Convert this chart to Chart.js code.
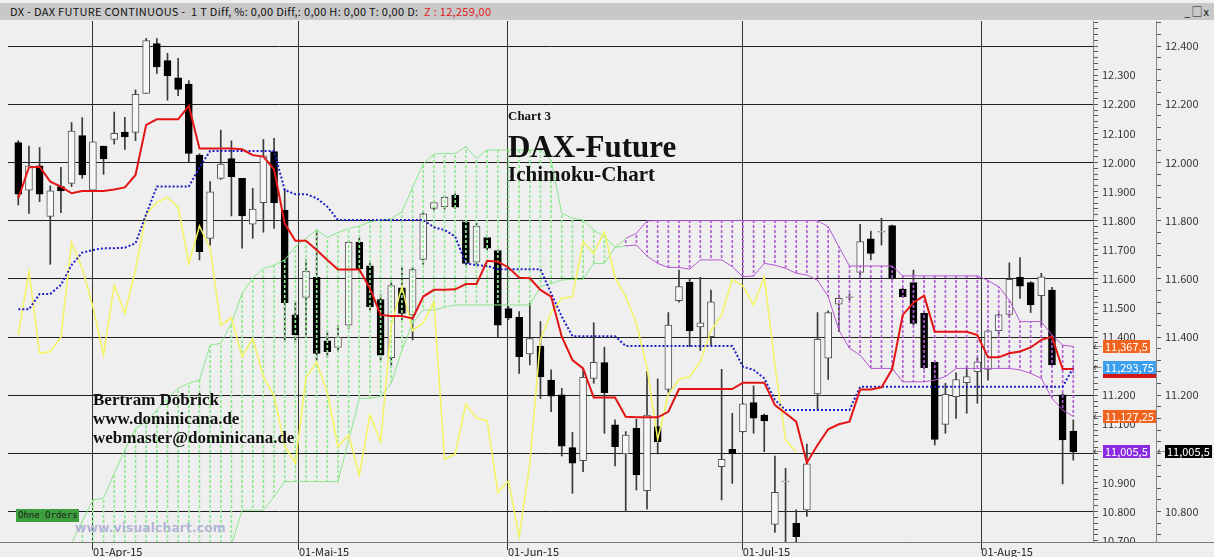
<!DOCTYPE html>
<html><head><meta charset="utf-8">
<script src="https://cdn.jsdelivr.net/npm/chart.js@4.4.0/dist/chart.umd.min.js"></script>
<style>
html,body{margin:0;padding:0;width:1214px;height:557px;overflow:hidden;background:#efefef;position:relative;font-family:'Noto Sans CJK KR','Liberation Sans',sans-serif;}
#c{position:absolute;left:0;top:0;}
.tb{position:absolute;left:0;top:3px;width:1214px;height:17px;background:#c8c8c8;font-size:11px;line-height:17px;color:#111;white-space:pre;}
.tb .t{position:absolute;left:10px;top:0;letter-spacing:0.3px;}
.tb .r{color:#e02020;}
.tb .w{position:absolute;right:4px;top:0;letter-spacing:1px;font-size:11px;}
.ser{position:absolute;font-family:'Liberation Serif','Times New Roman',serif;font-weight:bold;color:#111;white-space:pre;}
.wm{position:absolute;left:75px;top:522px;font-family:'DejaVu Sans',sans-serif;font-weight:bold;font-size:12.5px;line-height:12.5px;color:#b4b4d8;white-space:pre;}
.oo{position:absolute;left:16px;top:509px;width:63px;height:13px;background:#3d9e3d;font-family:'DejaVu Sans Mono',monospace;font-size:9px;line-height:13px;color:#1b1b1b;text-indent:2px;white-space:pre;}
.mk{position:absolute;height:13px;line-height:13px;font-size:11px;color:#fff;padding:0 2px;white-space:pre;}
.ar{position:absolute;font-size:9px;line-height:13px;color:#333;}
</style></head>
<body>
<canvas id="c" width="1214" height="557"></canvas>
<div class="tb"><span class="t">DX - DAX FUTURE CONTINUOUS -  1 T Diff, %: 0,00 Diff,: 0,00 H: 0,00 T: 0,00 D:  <span class="r">Z : 12,259,00</span></span><span class="w">_□x</span></div>
<div class="ser" style="left:508px;top:109px;font-size:13px;line-height:13px;">Chart 3</div>
<div class="ser" style="left:508px;top:131px;font-size:31px;line-height:31px;">DAX-Future</div>
<div class="ser" style="left:508px;top:164px;font-size:21px;line-height:21px;">Ichimoku-Chart</div>
<div class="ser" style="left:93px;top:391px;font-size:17px;line-height:17px;">Bertram Dobrick</div>
<div class="ser" style="left:93px;top:410px;font-size:17px;line-height:17px;">www.dominicana.de</div>
<div class="ser" style="left:93px;top:429px;font-size:17px;line-height:17px;">webmaster@dominicana.de</div>
<div class="oo">Ohne Orders</div>
<div class="wm">www.visualchart.com</div>
<script>
// ---- data ----
const opens = [12068,11905,11988,11814,11917,11928,12092,11905,12056,12079,
12104,12103,12237,12408,12350,12291,12269,12025,11739,11945,
12013,11945,11788,11862,12037,11836,11476,11536,11605,11387,
11364,11441,11725,11645,11529,11329,11569,11476,11667,11842,
11848,11888,11796,11657,11742,11697,11498,11468,11342,11369,
11252,11201,11020,10975,11258,11312,11098,10998,11086,10872,
11092,11220,11525,11588,11435,11401,10954,11014,11075,11175,
11132,10756,10902,10760,10806,11204,11327,11513,11535,11622,
11737,11760,11783,11565,11587,11481,11313,11100,11195,11243,
11281,11289,11422,11478,11605,11587,11542,11561,11201,11077];
const highs = [12075,12056,12051,11919,11983,12137,12154,12071,12056,12173,
12155,12249,12426,12426,12375,12358,12281,12030,11934,12111,
12074,11945,11911,12079,12083,11907,11520,11665,11768,11420,
11441,11730,11740,11660,11545,11590,11642,11640,11830,11865,
11885,11892,11800,11790,11750,11700,11505,11487,11516,11453,
11287,11224,11072,11287,11449,11365,11115,11075,11117,11281,
11256,11484,11630,11600,11605,11561,11289,11138,11172,11232,
11135,10991,10949,10806,11032,11484,11490,11545,11548,11787,
11764,11808,11785,11567,11630,11487,11318,11241,11277,11298,
11330,11425,11480,11655,11673,11590,11619,11571,11205,11115];
const lows = [11854,11825,11865,11650,11827,11917,11945,11905,11959,12063,
12045,12075,12237,12306,12214,12229,12002,11665,11716,11942,
11816,11705,11739,11760,11773,11384,11380,11401,11320,11330,
11350,11430,11620,11490,11320,11300,11460,11390,11650,11835,
11840,11842,11640,11650,11700,11401,11460,11275,11304,11189,
11143,10991,10863,10937,11241,11069,10957,10800,10874,10808,
10998,11210,11520,11367,11353,11372,10840,10897,11073,11069,
11006,10728,10690,10690,10783,11149,11254,11418,11528,11602,
11665,11716,11598,11535,11440,11290,11029,11069,11120,11138,
11172,11252,11410,11470,11533,11484,11440,11300,10895,10977];
const closes = [11891,11988,11891,11902,11902,12108,11957,12071,12012,12100,
12088,12234,12419,12328,12297,12251,12031,11693,11899,11994,
11951,11816,11840,12023,11862,11518,11407,11626,11344,11350,
11399,11725,11635,11504,11338,11577,11481,11632,11823,11862,
11880,11846,11653,11781,11705,11441,11466,11332,11395,11264,
11197,11025,10966,11261,11313,11209,11023,11063,10926,11132,
11040,11441,11573,11422,11449,11521,10980,10998,11170,11121,
11112,10866,10905,10714,10964,11392,11484,11533,11538,11728,
11687,11763,11604,11539,11447,11295,11048,11203,11254,11264,
11315,11421,11476,11598,11575,11510,11607,11304,11046,11005.5];
const tenkan = [11877,11983,11985,11934,11917,11894,11902,11902,11902,11907,
11914,11957,12129,12148,12148,12148,12194,12048,12048,12048,
12048,12045,12025,12020,11976,11790,11731,11731,11699,11665,
11632,11632,11632,11567,11476,11472,11472,11464,11539,11562,
11562,11564,11582,11582,11662,11659,11639,11604,11602,11562,
11539,11401,11321,11292,11192,11192,11192,11126,11124,11124,
11124,11143,11221,11221,11221,11221,11221,11221,11243,11243,
11243,11166,11138,11109,10968,11029,11083,11100,11109,11220,
11220,11227,11289,11476,11518,11542,11418,11418,11418,11418,
11407,11330,11330,11344,11350,11364,11390,11401,11290,11290];
const kijun = [11495,11495,11548,11548,11579,11647,11690,11699,11705,11705,
11707,11722,11822,11917,11917,11917,11917,11983,12039,12039,
12039,12039,12039,12039,12039,11905,11891,11891,11877,11848,
11802,11802,11802,11802,11802,11802,11802,11802,11802,11777,
11768,11745,11653,11647,11644,11633,11633,11633,11633,11633,
11550,11470,11403,11403,11403,11403,11403,11369,11369,11369,
11369,11369,11369,11369,11369,11369,11369,11369,11298,11287,
11258,11184,11149,11149,11149,11149,11149,11149,11149,11229,
11229,11229,11229,11229,11229,11229,11229,11229,11229,11229,
11229,11229,11229,11229,11229,11229,11229,11229,11229,11293.75];
const chikou = [11407,11626,11344,11350,11399,11725,11635,11504,11338,11577,
11481,11632,11823,11862,11880,11846,11653,11781,11705,11441,
11466,11332,11395,11264,11197,11025,10966,11261,11313,11209,
11023,11063,10926,11132,11040,11441,11573,11422,11449,11521,
10980,10998,11170,11121,11112,10866,10905,10714,10964,11392,
11484,11533,11538,11728,11687,11763,11604,11539,11447,11295,
11048,11203,11254,11264,11315,11421,11476,11598,11575,11510,
11607,11304,11046,11005.5];
const spanA = [null,null,null,null,null,10690,10767,10840,10846,10931,
11012,11086,11109,11149,11189,11224,11241,11252,11372,11378,
11447,11550,11602,11636,11647,11665,11710,11739,11768,11742,
11759,11773,11781,11796,11802,11806,11830,11915,11995,12029,
12031,12031,12054,12014,12043,12043,12043,12043,12043,12043,
12008,11825,11808,11802,11768,11745,11708,11713,11716,11678,
11653,11639,11639,11633,11665,11665,11665,11642,11607,11610,
11653,11647,11636,11619,11613,11595,11539,11424,11361,11338,
11292,11292,11292,11246,11246,11246,11252,11264,11292,11292,
11292,11292,11292,11292,11287,11275,11258,11189,11149,11127.25];
const spanB = [null,null,null,null,null,10600,10600,10600,10600,10600,
10600,10600,10600,10600,10600,10600,10600,10600,10600,10600,
10685,10805,10805,10805,10851,10903,10903,10903,10903,10903,
10903,11046,11189,11189,11195,11241,11355,11447,11493,11493,
11502,11510,11510,11510,11510,11510,11510,11510,11510,11573,
11584,11596,11598,11598,11653,11653,11708,11739,11756,11799,
11800,11800,11800,11800,11800,11800,11800,11800,11800,11800,
11800,11800,11800,11800,11800,11800,11779,11710,11644,11644,
11644,11644,11644,11610,11610,11610,11610,11610,11610,11610,
11610,11594,11573,11527,11453,11453,11453,11407,11372,11367.5];
const monthPos = [7, 26.34, 45.95, 67.98, 90.37];
const monthLabels = ['01-Apr-15','01-Mai-15','01-Jun-15','01-Jul-15','01-Aug-15'];
const markerValues = [11367.5, 11293.75, 11127.25, 11005.5];
const markerTexts = ['11,367,5','11,293,75','11,127,25','11,005,5'];
const lastCloseText = '11,005,5';

// ---- chart ----
const FAM = "'Noto Sans CJK KR','Liberation Sans',sans-serif";
const xMin = -0.9665, xMax = 100.85, yMin = 10695.5, yMax = 12486;
const fmt = v => { const t = Math.floor(v/1000); const r = Math.round(v - t*1000); return t + '.' + String(r).padStart(3,'0'); };
const canvas = document.getElementById('c');
const ctx = canvas.getContext('2d');
function dashPattern(color){ const c = document.createElement('canvas'); c.width = 1; c.height = 5; const g = c.getContext('2d'); g.fillStyle = color; g.fillRect(0,0,1,3); return ctx.createPattern(c,'repeat'); }
const greenDash = dashPattern('#8eea8e'), purpleDash = dashPattern('#b15ad6');
const idx = opens.map((_, i) => i);
const isUp = idx.map(i => closes[i] >= opens[i]);
const cloudIdx = idx.filter(i => spanA[i] !== null);
const cloudLine = i => (spanA[i] >= spanB[i] ? '#8ee68e' : '#b45ad2');

const bgPlugin = {
  id: 'bg',
  beforeDraw(ch){ const c = ch.ctx; c.save(); c.fillStyle = '#efefef'; c.fillRect(0,0,ch.width,ch.height); c.restore(); },
  afterDraw(ch){
    const c = ch.ctx, a = ch.chartArea; c.save();
    c.fillStyle = '#efefef'; c.fillRect(a.right + 1, a.bottom + 1, ch.width - a.right, ch.height - a.bottom);
    c.strokeStyle = '#777'; c.lineWidth = 1;
    c.beginPath(); c.moveTo(0, Math.round(a.bottom) + 0.5); c.lineTo(ch.width, Math.round(a.bottom) + 0.5); c.stroke();
    c.restore();
  }
};

const chart = new Chart(ctx, {
  type: 'bar',
  data: { datasets: [
    { type:'bar', data: idx.map(i => ({x:i, y:[lows[i], highs[i]]})), backgroundColor:'#3a3a3a', barThickness:1, grouped:false, order:6 },
    { type:'bar', data: idx.map(i => ({x:i, y:[opens[i], closes[i]]})), backgroundColor: idx.map(i => isUp[i] ? '#f7f7f7' : '#000000'), borderColor: idx.map(i => isUp[i] ? '#555555' : '#000000'), borderWidth:1, borderSkipped:false, barThickness:7, grouped:false, order:5 },
    { type:'bar', data: cloudIdx.map(i => ({x:i, y:[spanB[i], spanA[i]]})), backgroundColor: cloudIdx.map(i => spanA[i] >= spanB[i] ? greenDash : purpleDash), barThickness:1, grouped:false, order:4 },
    { type:'line', data: idx.map(i => ({x:i, y:spanA[i]})), borderColor:'#8ee68e', borderWidth:1, pointRadius:0, segment:{ borderColor: c => cloudLine(c.p0DataIndex) }, order:3 },
    { type:'line', data: idx.map(i => ({x:i, y:spanB[i]})), borderColor:'#8ee68e', borderWidth:1, pointRadius:0, segment:{ borderColor: c => cloudLine(c.p0DataIndex) }, order:3 },
    { type:'line', data: chikou.map((v,i) => ({x:i, y:v})), borderColor:'#f4f45e', borderWidth:1.5, pointRadius:0, order:2 },
    { type:'line', data: kijun.map((v,i) => ({x:i, y:v})), borderColor:'#1e1ec8', borderWidth:2, borderDash:[2,2], pointRadius:0, order:1 },
    { type:'line', data: tenkan.map((v,i) => ({x:i, y:v})), borderColor:'#e41414', borderWidth:2, pointRadius:0, order:0 }
  ]},
  options: {
    responsive:false, animation:false, devicePixelRatio:1,
    layout:{ padding:{ left:8, top:21, right:0, bottom:0 } },
    plugins:{ legend:{display:false}, tooltip:{enabled:false} },
    scales:{
      x:{ type:'linear', min:xMin, max:xMax, offset:false,
        afterBuildTicks: s => { s.ticks = monthPos.map(v => ({value:v})); },
        afterFit: s => { s.height = 15; },
        ticks:{ autoSkip:false, maxRotation:0, align:'start', padding:-5, color:'#222', font:{family:FAM, size:11}, callback:(v,i) => monthLabels[i] },
        grid:{ offset:false, color:'#333', lineWidth:1, drawTicks:true, tickLength:8 },
        border:{ display:true, color:'#777' } },
      y:{ position:'right', min:yMin, max:yMax, weight:0,
        afterFit: s => { s.width = 63; },
        ticks:{ stepSize:20, maxTicksLimit:1000, includeBounds:false, autoSkip:false, padding:4, color:'#333', font:{family:FAM, size:11}, callback: v => (v % 100 === 0 && v < 12400) ? fmt(v) : '' },
        grid:{ drawOnChartArea:false, tickLength:5, color:'#555', tickColor:'#555' },
        border:{ color:'#888' } },
      y2:{ position:'right', min:yMin, max:yMax, weight:1,
        afterFit: s => { s.width = 58; },
        ticks:{ stepSize:40, maxTicksLimit:1000, includeBounds:false, autoSkip:false, padding:4, color:'#333', font:{family:FAM, size:11}, callback: v => (v % 200 === 0) ? fmt(v) : '' },
        grid:{ drawOnChartArea:true, tickLength:5, color: c => (c.tick && c.tick.value % 200 === 0) ? '#1e1e1e' : 'rgba(0,0,0,0)', tickColor:'#555' },
        border:{ color:'#888' } }
    }
  },
  plugins:[bgPlugin]
});

// value markers on the right axes (positioned through the y scale)
const ys = chart.scales.y;
const mkColors = ['#f0641e','#3ca0ee','#f0641e','#8a2be2'];
markerValues.forEach((v,k) => {
  const y = ys.getPixelForValue(v);
  const d = document.createElement('div'); d.className = 'mk'; d.textContent = markerTexts[k];
  d.style.left = '1103px'; d.style.top = (y - 6.5) + 'px'; d.style.background = mkColors[k];
  if (k === 1) d.style.borderBottom = '4px solid #d01818';
  document.body.appendChild(d);
  const a = document.createElement('div'); a.className = 'ar'; a.textContent = '←'; a.style.left = '1093px'; a.style.top = (y - 6.5) + 'px';
  document.body.appendChild(a);
});
{
  const y = ys.getPixelForValue(closes[closes.length-1]);
  const d = document.createElement('div'); d.className = 'mk'; d.textContent = lastCloseText;
  d.style.left = '1165px'; d.style.top = (y - 6.5) + 'px'; d.style.background = '#000';
  document.body.appendChild(d);
  const a = document.createElement('div'); a.className = 'ar'; a.textContent = '←'; a.style.left = '1157px'; a.style.top = (y - 6.5) + 'px';
  document.body.appendChild(a);
}
</script>
</body></html>
